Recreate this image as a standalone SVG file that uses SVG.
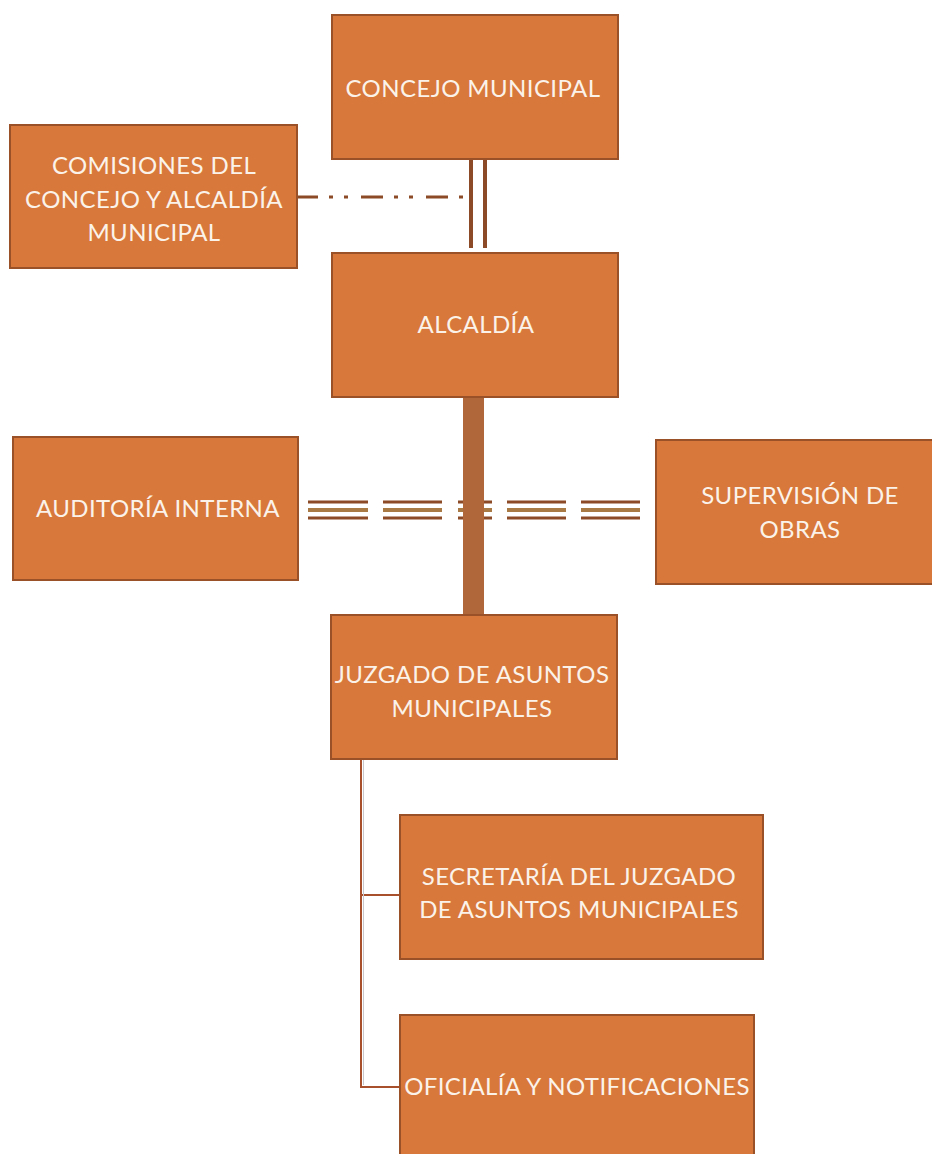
<svg xmlns="http://www.w3.org/2000/svg" width="932" height="1154" viewBox="0 0 932 1154">
<style>
.box{fill:#d8783a;stroke:#9a5128;stroke-width:2}
.lbl{font-family:Lato,"Open Sans","Liberation Sans",sans-serif;font-size:24px;letter-spacing:0.4px;fill:#fbf3ea;text-anchor:middle}
.c-dark{stroke:#8d4a26;fill:none}
.c-mid{stroke:#a97a44;fill:none}
</style>
<rect width="932" height="1154" fill="#ffffff"/>
<g id="connectors">
  <line class="c-dark" x1="471" y1="159" x2="471" y2="248" stroke-width="4"/>
  <line class="c-dark" x1="485" y1="159" x2="485" y2="248" stroke-width="4"/>
  <line class="c-dark" x1="296" y1="197" x2="471" y2="197" stroke-width="3" stroke-dasharray="22 11 4 11 4 13"/>
  <g id="triple">
    <path class="c-dark" stroke-width="3" d="M308 502H368M383 502H442M458 502H492M507 502H566M581 502H640"/>
    <path class="c-mid" stroke-width="4" d="M308 510H368M383 510H442M458 510H492M507 510H566M581 510H640"/>
    <path class="c-dark" stroke-width="3" d="M308 518H368M383 518H442M458 518H492M507 518H566M581 518H640"/>
  </g>
  <rect x="463" y="397" width="21" height="218" fill="#b0683a"/>
  <path d="M361 759V1087H400M361 895H400" stroke="#a8502c" stroke-width="2" fill="none"/>
  <line x1="363.5" y1="760" x2="363.5" y2="1085" stroke="#c8c8cc" stroke-width="1"/>
</g>
<g id="concejo">
  <rect class="box" x="332" y="15" width="286" height="144"/>
  <text class="lbl" x="473" y="97">CONCEJO MUNICIPAL</text>
</g>
<g id="comisiones">
  <rect class="box" x="10" y="125" width="287" height="143"/>
  <text class="lbl" x="154" y="174">COMISIONES DEL</text>
  <text class="lbl" x="154" y="208">CONCEJO Y ALCALDÍA</text>
  <text class="lbl" x="154" y="241">MUNICIPAL</text>
</g>
<g id="alcaldia">
  <rect class="box" x="332" y="253" width="286" height="144"/>
  <text class="lbl" x="476" y="333">ALCALDÍA</text>
</g>
<g id="auditoria">
  <rect class="box" x="13" y="437" width="285" height="143"/>
  <text class="lbl" x="158" y="517">AUDITORÍA INTERNA</text>
</g>
<g id="supervision">
  <rect class="box" x="656" y="440" width="280" height="144"/>
  <text class="lbl" x="800" y="504">SUPERVISIÓN DE</text>
  <text class="lbl" x="800" y="538">OBRAS</text>
</g>
<g id="juzgado">
  <rect class="box" x="331" y="615" width="286" height="144"/>
  <text class="lbl" x="472" y="683">JUZGADO DE ASUNTOS</text>
  <text class="lbl" x="472" y="717">MUNICIPALES</text>
</g>
<g id="secretaria">
  <rect class="box" x="400" y="815" width="363" height="144"/>
  <text class="lbl" x="579" y="885">SECRETARÍA DEL JUZGADO</text>
  <text class="lbl" x="579" y="918">DE ASUNTOS MUNICIPALES</text>
</g>
<g id="oficialia">
  <rect class="box" x="400" y="1015" width="354" height="145"/>
  <text class="lbl" x="577" y="1095">OFICIALÍA Y NOTIFICACIONES</text>
</g>
</svg>
